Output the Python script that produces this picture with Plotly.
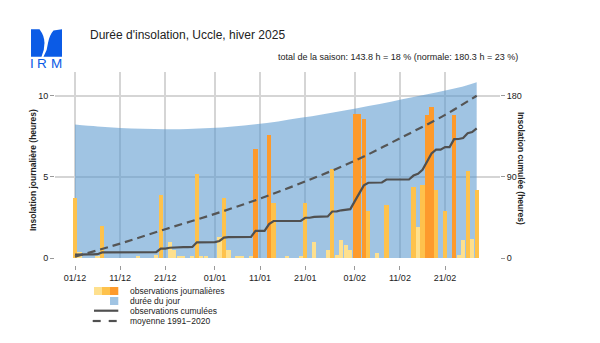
import itertools
import pandas as pd
import plotly.graph_objects as go

# ---- data -------------------------------------------------------------
days = pd.date_range("2024-12-01", "2025-02-28", freq="D")

# daily sunshine duration (hours), 1 Dec 2024 .. 28 Feb 2025
sunshine_h = [
    3.7, 0.4, 0.0, 0.0, 0.0, 0.1, 2.0, 0.0, 0.0, 0.0,
    0.0, 0.0, 0.0, 0.0, 0.1, 0.0, 0.0, 0.0, 0.2, 3.9,
    0.0, 1.0, 0.5, 0.1, 0.1, 0.0, 0.1, 5.2, 0.1, 0.1,
    0.0, 0.0, 1.3, 3.7, 0.5, 0.0, 0.1, 0.1, 0.0, 0.1,
    6.7, 0.0, 0.0, 7.6, 3.4, 0.0, 0.0, 0.1, 0.0, 0.0,
    0.1, 3.4, 0.0, 1.0, 0.0, 0.0, 0.5, 5.5, 0.2, 1.1,
    0.8, 0.5, 8.9, 8.9, 8.6, 2.9, 0.0, 0.3, 0.0, 3.3,
    0.0, 0.0, 0.0, 0.0, 0.0, 4.4, 1.9, 4.5, 8.8, 9.3,
    4.2, 0.0, 2.9, 0.0, 8.8, 0.2, 1.1, 5.4, 1.2, 4.2,
]
# sunshine class of each day: 0 = low, 1 = moderate, 2 = high
sun_class = [
    1, 0, 0, 0, 0, 0, 1, 0, 0, 0,
    0, 0, 0, 0, 0, 0, 0, 0, 0, 1,
    0, 0, 0, 0, 0, 0, 0, 1, 0, 0,
    0, 0, 0, 1, 0, 0, 0, 0, 0, 0,
    2, 0, 0, 2, 1, 0, 0, 0, 0, 0,
    0, 1, 0, 0, 0, 0, 0, 1, 0, 0,
    0, 0, 2, 2, 2, 1, 0, 0, 0, 1,
    0, 0, 0, 0, 0, 1, 0, 1, 2, 2,
    1, 0, 1, 0, 2, 0, 0, 1, 0, 1,
]
class_colors = ["#FEE08E", "#FEC24C", "#FD9A2C"]

# astronomical day length (hours)
daylen_dates = [
    "2024-12-01", "2024-12-06", "2024-12-11", "2024-12-16", "2024-12-21",
    "2024-12-26", "2024-12-31", "2025-01-05", "2025-01-10", "2025-01-15",
    "2025-01-20", "2025-01-25", "2025-01-30", "2025-02-04", "2025-02-09",
    "2025-02-14", "2025-02-19", "2025-02-24", "2025-02-28",
]
daylen_h = [
    8.24, 8.12, 8.03, 7.97, 7.95,
    7.96, 8.02, 8.12, 8.25, 8.43,
    8.65, 8.88, 9.12, 9.38, 9.65,
    9.93, 10.22, 10.52, 10.85,
]

# cumulative normal 1991-2020 (hours)
normal_dates = [
    "2024-12-01", "2024-12-11", "2024-12-21", "2025-01-01", "2025-01-11",
    "2025-01-21", "2025-02-01", "2025-02-11", "2025-02-21", "2025-02-28",
]
normal_cum_h = [1.5, 16, 32, 49, 66, 85, 108, 133, 159, 180.3]

tick_dates = ["2024-12-01", "2024-12-11", "2024-12-21", "2025-01-01", "2025-01-11",
              "2025-01-21", "2025-02-01", "2025-02-11", "2025-02-21"]
tick_labels = ["01/12", "11/12", "21/12", "01/01", "11/01",
               "21/01", "01/02", "11/02", "21/02"]

cum_h = list(itertools.accumulate(sunshine_h))

# ---- page geometry ------------------------------------------------------
W, H = 600, 343
ML, MR, MT, MB = 55, 100, 72, 78
PW, PH = W - ML - MR, H - MT - MB


def px(x):
    return (x - ML) / PW


def py(y):
    return (H - MB - y) / PH


FONT = "Liberation Sans, Arial, sans-serif"
TXT = "#222222"
GRID = "#D5D5D5"
BLUE = "rgba(92,153,206,0.58)"

fig = go.Figure()

# day length (bottom layer, left axis)
fig.add_trace(go.Scatter(
    x=pd.to_datetime(daylen_dates), y=daylen_h, mode="lines",
    line=dict(width=0, shape="spline"), fill="tozeroy",
    fillcolor=BLUE, hoverinfo="skip", showlegend=False))

# daily bars on an overlaid twin of the left axis, so they sit above the area
fig.add_trace(go.Bar(
    x=days, y=sunshine_h, yaxis="y2", width=0.93 * 86400000,
    marker=dict(color=[class_colors[c] for c in sun_class], line=dict(width=0)),
    showlegend=False))

# cumulative curves on the right axis
fig.add_trace(go.Scatter(
    x=days, y=cum_h, yaxis="y3", mode="lines",
    line=dict(color="#505050", width=2.2), showlegend=False))

fig.add_trace(go.Scatter(
    x=pd.to_datetime(normal_dates), y=normal_cum_h, yaxis="y3", mode="lines",
    line=dict(color="#555555", width=2.2, dash="8px,5px", shape="spline"),
    showlegend=False))

y_top = 11.48
tick_font = dict(size=9, color=TXT)
fig.update_layout(
    width=W, height=H, margin=dict(l=ML, r=MR, t=MT, b=MB),
    paper_bgcolor="white", plot_bgcolor="white",
    font=dict(family=FONT, size=9, color=TXT),
    bargap=0, showlegend=False,
    xaxis=dict(
        type="date", range=["2024-11-26 13:40", "2025-03-05 04:00"],
        anchor="free", position=0,
        tickvals=pd.to_datetime(tick_dates), ticktext=tick_labels,
        ticks="outside", ticklen=4, tickcolor="#999999", tickwidth=1,
        showgrid=True, gridcolor=GRID, gridwidth=1.5,
        showline=False, zeroline=False, tickfont=tick_font,
    ),
    yaxis=dict(
        domain=[7 / PH, 1], range=[0, y_top], tickvals=[0, 5, 10],
        ticks="outside", ticklen=4, tickcolor="#999999",
        showgrid=True, gridcolor=GRID, gridwidth=1.5,
        showline=False, zeroline=False, tickfont=tick_font,
    ),
    yaxis2=dict(
        overlaying="y", anchor="x", range=[0, y_top],
        visible=False, showgrid=False, zeroline=False,
    ),
    yaxis3=dict(
        overlaying="y", side="right", anchor="x", range=[0, y_top * 18],
        tickvals=[0, 90, 180], ticks="outside", ticklen=4, tickcolor="#999999",
        showgrid=False, showline=False, zeroline=False, tickfont=tick_font,
    ),
)

ann = []
ann.append(dict(x=px(88), y=py(35), text="Durée d'insolation, Uccle, hiver 2025",
                xanchor="left", yanchor="middle", font=dict(size=12, color=TXT)))
ann.append(dict(x=px(520), y=py(57),
                text="total de la saison: 143.8 h = 18 % (normale: 180.3 h = 23 %)",
                xanchor="right", yanchor="middle", font=dict(size=9, color=TXT)))
ann.append(dict(x=px(33), y=py(170), text="<b>Insolation journalière (heures)</b>",
                textangle=-90, xanchor="center", yanchor="middle",
                font=dict(size=8.5, color=TXT)))
ann.append(dict(x=px(521), y=py(168), text="<b>Insolation cumulée (heures)</b>",
                textangle=90, xanchor="center", yanchor="middle",
                font=dict(size=8.5, color=TXT)))

legend_rows = [(291, "observations journalières"), (300.5, "durée du jour"),
               (310.7, "observations cumulées"), (321, "moyenne 1991\u22122020")]
for yy, label in legend_rows:
    ann.append(dict(x=px(128), y=py(yy), text=label, xanchor="left", yanchor="middle",
                    font=dict(size=8.5, color=TXT)))

# logo lettering, spaced out to the width of the emblem
logo_blue = "#0B5BE6"
for letter, cx in (("I", 32.3), ("R", 42.0), ("M", 56.0)):
    ann.append(dict(x=px(cx), y=py(63.8), text=letter, xanchor="center", yanchor="middle",
                    font=dict(size=13.5, color=logo_blue, family="Liberation Sans")))

for a in ann:
    a.update(xref="paper", yref="paper", showarrow=False)
fig.update_layout(annotations=ann)

shapes = []


def rect(x0, y0, x1, y1, color):
    shapes.append(dict(type="rect", xref="paper", yref="paper",
                       x0=px(x0), x1=px(x1), y0=py(y0), y1=py(y1),
                       fillcolor=color, line=dict(width=0), layer="above"))


def seg(x0, x1, y):
    shapes.append(dict(type="line", xref="paper", yref="paper",
                       x0=px(x0), x1=px(x1), y0=py(y), y1=py(y),
                       line=dict(color="#505050", width=2.2), layer="above"))


# legend keys
rect(94, 287, 102, 295, class_colors[0])
rect(102, 287, 110, 295, class_colors[1])
rect(110, 287, 118.3, 295, class_colors[2])
rect(110, 297, 118.3, 305, BLUE)
seg(94, 118.3, 310.7)
seg(92.7, 100.7, 321)
seg(108.7, 116.7, 321)


def path(points):
    d = ""
    for cmd, pts in points:
        d += cmd + " ".join(f"{px(a):.5f},{py(b):.5f}" for a, b in pts) + " "
    return d + "Z"


left_block = path([("M", [(31, 29.3)]), ("L", [(39.5, 29.3)]),
                   ("Q", [(44.5, 36), (44.5, 43)]), ("Q", [(44.5, 50), (41.5, 56.7)]),
                   ("L", [(31, 56.7)])])
right_block = path([("M", [(53.5, 30.5)]), ("L", [(62, 29.3)]), ("L", [(62, 56.7)]),
                    ("L", [(43.5, 56.7)]), ("Q", [(47.5, 50), (48, 43)]),
                    ("Q", [(49.5, 35), (53.5, 30.5)])])
for d in (left_block, right_block):
    shapes.append(dict(type="path", xref="paper", yref="paper", path=d,
                       fillcolor=logo_blue, line=dict(width=0), layer="above"))

fig.update_layout(shapes=shapes)

fig.write_html("out.html")
